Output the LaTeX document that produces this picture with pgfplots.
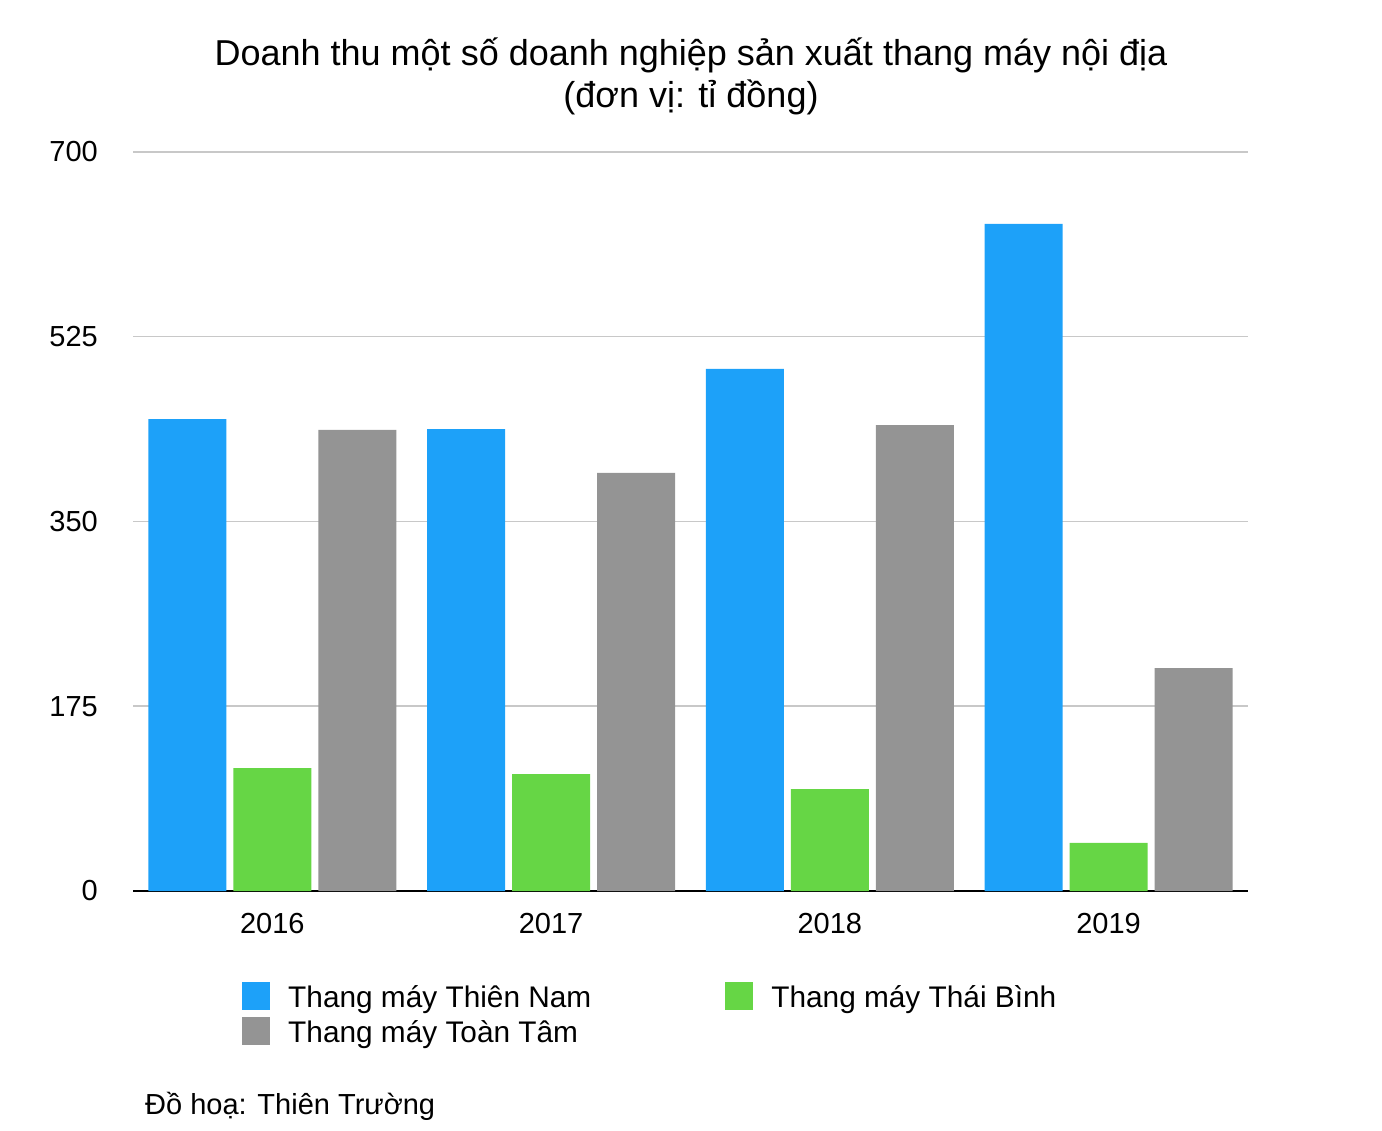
\documentclass[border=0pt]{standalone}
\usepackage{fontspec}
\setmainfont{Liberation Sans}
\usepackage{pgfplots}
\pgfplotsset{compat=1.18}
\definecolor{cblue}{HTML}{1DA1F9}
\definecolor{cgreen}{HTML}{66D645}
\definecolor{cgray}{HTML}{949494}
\definecolor{cgrid}{HTML}{C8C8C8}
\begin{document}
\begin{tikzpicture}[x=1bp,y=1bp]
\path[use as bounding box] (0,0) rectangle (1382,1130);
\node[anchor=base, font=\fontsize{36bp}{42bp}\selectfont] at (691,1064) {Doanh thu một số doanh nghiệp sản xuất thang máy nội địa};
\node[anchor=base, font=\fontsize{36bp}{42bp}\selectfont] at (691,1022) {(đơn vị: tỉ đồng)};
\node[anchor=base west, inner sep=0pt, font=\fontsize{29bp}{34bp}\selectfont] at (145,16) {Đồ hoạ: Thiên Trường};
\begin{axis}[
  at={(133bp,239bp)}, anchor=south west, scale only axis,
  width=1115bp, height=739bp,
  xmin=-0.5, xmax=3.5, ymin=0, ymax=700,
  xtick={0,1,2,3}, xticklabels={2016,2017,2018,2019},
  ytick={0,175,350,525,700},
  /pgf/number format/assume math mode=true,
  ymajorgrids, grid style={draw=cgrid, line width=1.5bp},
  axis x line*=bottom, axis y line*=left,
  y axis line style={draw=none},
  x axis line style={draw=black, line width=2.5bp, -},
  major tick length=0pt, tick style={draw=none},
  tick label style={font=\fontsize{29bp}{34bp}\selectfont, inner sep=0pt},
  yticklabel style={anchor=east, xshift=-35bp},
  xticklabel style={anchor=north, yshift=-22bp},
  legend columns=2,
  legend cell align=left,
  legend style={at={(0.0978,-0.1231)}, anchor=north west, draw=none, fill=none,
    inner sep=0pt, row sep=3bp,
    font=\fontsize{29.8bp}{35bp}\selectfont,
    nodes={inner sep=0pt, text height=21bp, text depth=7bp},
    /tikz/every odd column/.append style={column sep=18bp},
    /tikz/every even column/.append style={column sep=134bp}},
  legend image code/.code={\fill[#1] (0bp,-10bp) rectangle (28bp,18bp);},
]
\addplot[ybar, bar width=78bp, bar shift=-85bp, fill=cblue, draw=none] coordinates {(0,447) (1,437.6) (2,494.5) (3,631.8)};
\addlegendentry{Thang máy Thiên Nam}
\addplot[ybar, bar width=78bp, bar shift=0bp, fill=cgreen, draw=none] coordinates {(0,116.5) (1,110.8) (2,96.6) (3,45.5)};
\addlegendentry{Thang máy Thái Bình}
\addplot[ybar, bar width=78bp, bar shift=85bp, fill=cgray, draw=none] coordinates {(0,436.7) (1,396) (2,441.4) (3,211.2)};
\addlegendentry{Thang máy Toàn Tâm}
\end{axis}
\end{tikzpicture}
\end{document}
